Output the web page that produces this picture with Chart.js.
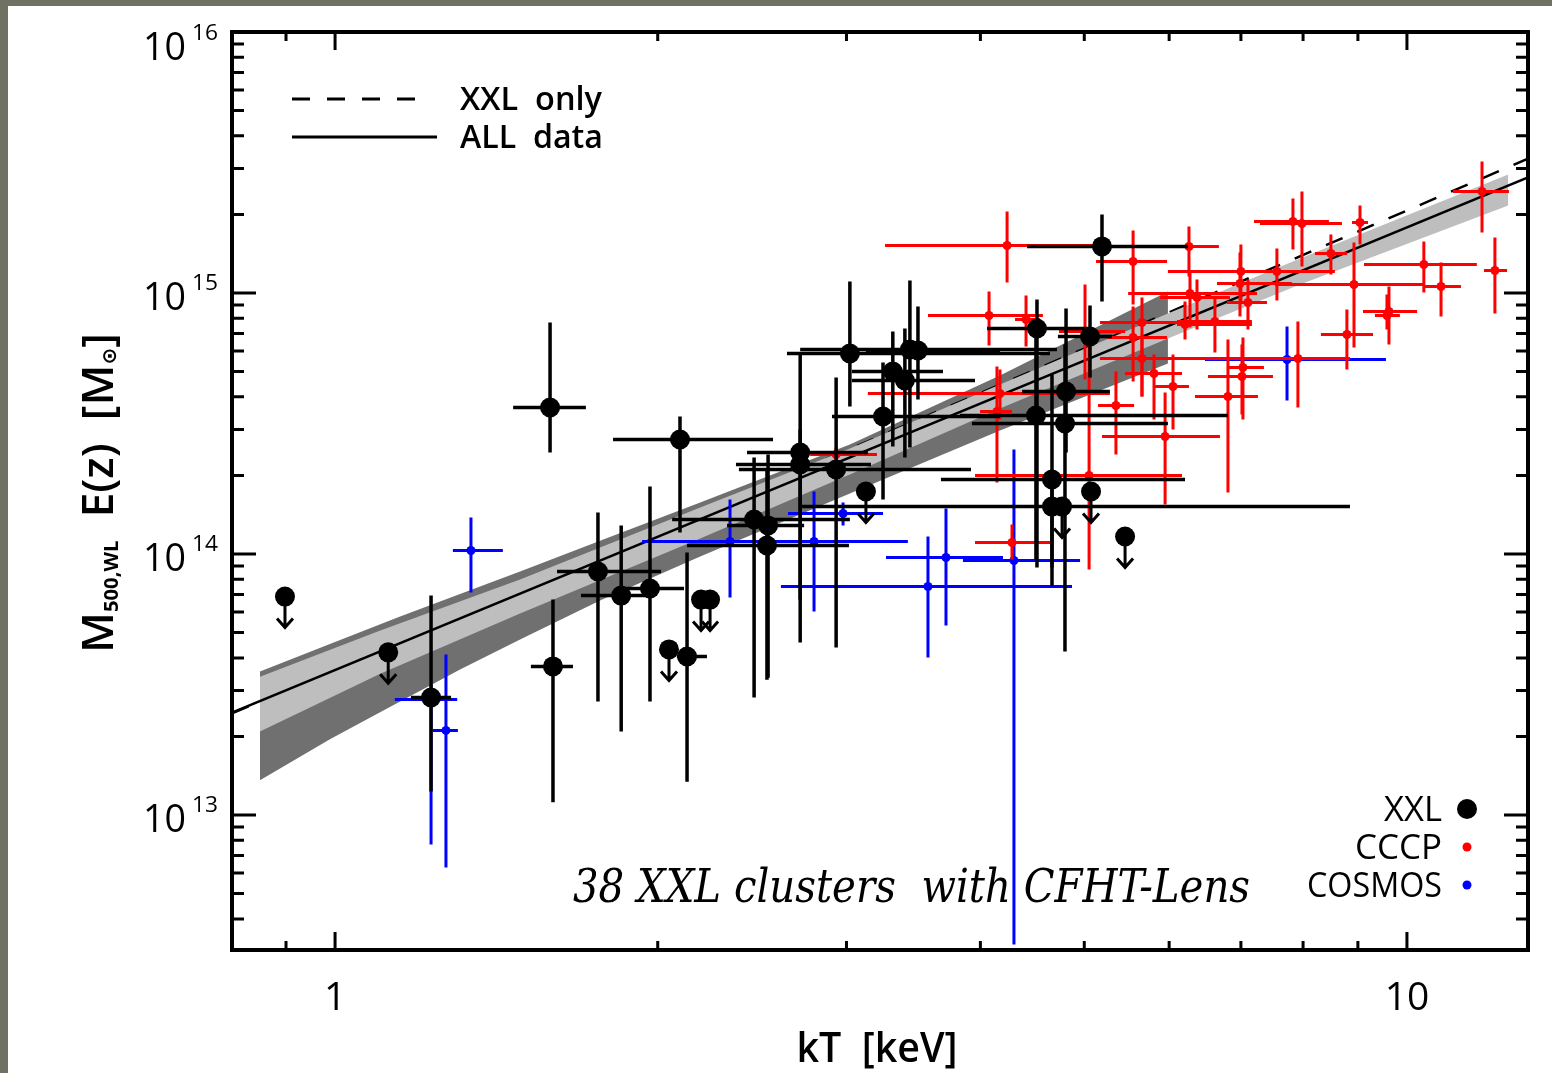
<!DOCTYPE html>
<html>
<head>
<meta charset="utf-8">
<title>M500,WL - kT</title>
<script src="https://cdn.jsdelivr.net/npm/chart.js@4.4.1/dist/chart.umd.min.js"></script>
<style>
  html, body { margin: 0; padding: 0; background: #ffffff; }
  canvas { display: block; }
</style>
</head>
<body>
<canvas id="mt" width="1552" height="1073"></canvas>
<script>
// kT in keV, masses M500,WL E(z) in units of 1e14 Msun

// XXL clusters with CFHTLenS masses
const xxlT   = [1.229, 1.587, 1.597, 1.759, 1.849, 1.967, 2.130, 2.098, 2.460, 2.535, 2.529, 2.716, 2.716, 2.934, 3.022, 3.314, 3.401, 3.438, 3.498, 3.245, 4.517, 5.062, 5.194, 4.507, 4.808, 4.797, 4.665, 4.665];
const xxlTlo = [1.177, 1.466, 1.523, 1.611, 1.696, 1.869, 2.084, 1.817, 2.063, 2.321, 2.130, 2.423, 2.366, 2.381, 2.640, 3.035, 3.035, 2.716, 3.128, 2.908, 4.058, 4.725, 4.421, 3.828, 4.375, 3.928, 3.675, 2.727];
const xxlThi = [1.283, 1.714, 1.667, 2.014, 1.967, 2.116, 2.223, 2.562, 3.022, 2.739, 3.016, 3.141, 3.162, 3.920, 4.645, 3.691, 3.954, 4.715, 4.172, 4.172, 5.040, 5.306, 6.248, 6.808, 5.283, 5.984, 6.208, 8.848];
const xxlM   = [0.282, 3.641, 0.371, 0.857, 0.693, 0.738, 0.405, 2.746, 1.356, 1.286, 1.078, 2.448, 2.202, 2.107, 5.865, 5.003, 4.622, 6.074, 6.021, 3.364, 7.311, 6.811, 15.08, 3.394, 4.195, 3.162, 1.929, 1.520];
const xxlMlo = [0.123, 2.448, 0.112, 0.272, 0.209, 0.272, 0.134, 1.209, 0.282, 0.336, 0.330, 0.458, 0.669, 0.438, 3.674, 2.582, 2.343, 2.559, 3.908, 1.618, 0.888, 4.746, 9.278, 0.953, 2.448, 0.423, 0.757, 0.888];
const xxlMhi = [0.693, 7.709, 0.669, 1.442, 1.286, 1.814, 1.013, 3.364, 2.343, 2.406, 2.107, 5.916, 2.999, 4.746, 11.07, 7.121, 7.311, 11.17, 8.877, 5.416, 9.443, 8.954, 19.99, 7.247, 8.722, 6.349, 4.873, 2.107];

// XXL upper limits
const xxlUlT = [0.898, 1.121, 2.049, 2.195, 2.238, 3.128, 4.767, 5.073, 5.458];
const xxlUlM = [0.687, 0.420, 0.431, 0.669, 0.669, 1.736, 1.520, 1.736, 1.167];

// CCCP
const cccpT   = [4.236, 6.261, 5.553, 7.828, 7.981, 9.041, 8.493, 11.75, 10.37, 10.76, 12.08, 8.925, 7.563, 7.000, 6.986, 7.107, 6.275, 6.370, 5.660, 6.208, 6.620, 5.553, 5.660, 5.808, 6.050, 5.352, 5.948, 6.808, 7.031, 7.016, 7.912, 8.790, 9.621, 9.580, 4.075, 4.412, 4.145, 5.052, 4.281, 5.008, 2.934, 4.172];
const cccpTlo = [3.259, 5.859, 5.128, 7.200, 7.293, 8.887, 8.206, 11.04, 9.119, 10.39, 11.80, 7.532, 5.984, 6.342, 6.649, 6.793, 5.494, 5.884, 5.171, 6.102, 6.102, 5.249, 5.171, 5.458, 5.821, 5.150, 5.194, 6.342, 6.793, 6.522, 6.480, 8.313, 9.099, 9.335, 3.574, 4.309, 3.997, 3.954, 3.954, 4.736, 2.775, 3.141];
const cccpThi = [5.171, 6.677, 5.973, 8.456, 8.697, 9.197, 8.790, 12.45, 11.62, 11.23, 12.40, 10.39, 8.566, 7.810, 7.810, 7.403, 7.246, 6.837, 6.235, 7.168, 7.168, 5.973, 6.549, 6.168, 6.261, 5.565, 6.692, 7.261, 7.355, 7.499, 8.848, 9.297, 10.22, 9.850, 4.575, 4.546, 4.281, 6.168, 4.665, 5.458, 3.203, 5.283];
const cccpM   = [15.21, 15.08, 13.20, 18.79, 18.47, 18.63, 14.17, 24.48, 12.86, 10.59, 12.20, 10.78, 12.09, 12.09, 10.87, 9.197, 9.957, 9.612, 7.709, 7.573, 7.777, 6.753, 5.611, 4.916, 4.382, 3.707, 2.819, 4.012, 5.183, 4.788, 5.611, 6.934, 8.493, 8.200, 8.200, 7.916, 3.516, 2.000, 1.107, 7.121, 2.406, 4.120];
const cccpMlo = [10.97, 11.57, 9.036, 14.68, 12.63, 15.34, 11.77, 17.05, 10.04, 8.128, 8.346, 6.183, 9.361, 9.278, 8.128, 7.247, 7.375, 7.247, 4.012, 6.634, 5.916, 4.580, 4.012, 3.276, 2.999, 2.406, 1.548, 1.720, 3.276, 3.424, 3.641, 5.092, 6.349, 7.247, 6.294, 6.237, 1.879, 0.872, 0.953, 4.662, 2.262, 3.276];
const cccpMhi = [20.53, 17.98, 17.36, 23.02, 24.48, 21.64, 16.75, 31.90, 15.75, 13.09, 16.32, 15.62, 14.81, 15.34, 14.30, 11.26, 11.98, 11.26, 9.612, 9.278, 9.696, 8.877, 6.934, 5.813, 5.813, 5.003, 4.157, 6.634, 6.753, 6.349, 7.777, 8.645, 10.59, 9.870, 10.13, 9.781, 5.228, 7.247, 1.297, 10.78, 2.559, 5.092];

// COSMOS
const cosT   = [1.269, 1.339, 1.229, 2.336, 2.798, 2.978, 3.715, 3.574, 4.299, 7.729];
const cosTlo = [1.234, 1.288, 1.137, 1.934, 2.130, 2.646, 3.266, 2.606, 3.853, 6.480];
const cosThi = [1.302, 1.434, 1.300, 3.169, 3.423, 3.245, 4.199, 4.870, 4.955, 9.559];
const cosM   = [0.211, 1.031, 0.277, 1.117, 1.117, 1.430, 0.970, 0.751, 0.944, 5.563];
const cosMlo = [0.0629, 0.712, 0.0771, 0.681, 0.602, 1.286, 0.532, 0.401, 0.0319, 3.873];
const cosMhi = [0.412, 1.380, 0.316, 1.618, 1.736, 1.575, 1.494, 1.167, 2.514, 7.440];

// best fits (end points) and their confidence bands
const allFitT = [0.8014, 12.97];
const allFitM = [0.247, 27.7];
const xxlFitT = [0.8014, 12.97];
const xxlFitM = [0.245, 32.7];

const xxlBandT  = [0.851, 0.989, 1.150, 1.308, 1.488, 1.767, 2.191, 3.022, 4.172, 5.984];
const xxlBandHi = [0.355, 0.452, 0.576, 0.703, 0.857, 1.123, 1.575, 2.628, 4.829, 10.13];
const xxlBandLo = [0.136, 0.195, 0.272, 0.361, 0.470, 0.664, 0.978, 1.705, 2.973, 5.369];

const allBandT  = [0.851, 1.102, 1.488, 2.191, 3.022, 4.172, 5.984, 7.947, 12.43];
const allBandHi = [0.339, 0.509, 0.799, 1.507, 2.537, 4.461, 8.346, 13.56, 28.44];
const allBandLo = [0.209, 0.348, 0.592, 1.147, 2.017, 3.610, 6.694, 10.78, 21.64];

// axes
const xRange = [0.8014, 12.97];
const yRange = [0.0304, 100];
const xTickLabels = [1, 10];
const yTickDecades = [0.1, 1, 10, 100];
const yTickExp = ['13', '14', '15', '16'];

const FONT = '"Open Sans", "DejaVu Sans", sans-serif';

const pts = (t, m) => t.map((v, i) => ({ x: v, y: m[i] }));

// draw text squeezed/stretched to a given width
function fitText(ctx, text, x, y, w, align) {
  const natural = ctx.measureText(text).width;
  ctx.save();
  ctx.translate(x, y);
  ctx.scale(w / natural, 1);
  ctx.textAlign = align || 'left';
  ctx.fillText(text, 0, 0);
  ctx.restore();
}

const background = {
  id: 'background',
  beforeDraw(chart) {
    const ctx = chart.ctx;
    ctx.save();
    ctx.fillStyle = '#ffffff';
    ctx.fillRect(0, 0, chart.width, chart.height);
    ctx.fillStyle = '#6f7163';
    ctx.fillRect(0, 0, chart.width, 6);
    ctx.fillRect(0, 0, 8, chart.height);
    ctx.restore();
  }
};

// error bars and upper limit arrows, drawn just under each dataset's markers
const errorBars = {
  id: 'errorBars',
  beforeDatasetDraw(chart, args) {
    const ds = chart.data.datasets[args.index];
    if (!ds.errT && !ds.upperLimit) return;
    const { ctx, chartArea: a, scales: { x, y } } = chart;
    ctx.save();
    ctx.beginPath();
    ctx.rect(a.left, a.top, a.right - a.left, a.bottom - a.top);
    ctx.clip();
    ctx.strokeStyle = ds.barColor;
    ctx.lineWidth = ds.barWidth;
    ctx.lineCap = 'butt';
    ds.data.forEach((p, i) => {
      const px = x.getPixelForValue(p.x);
      const py = y.getPixelForValue(p.y);
      ctx.beginPath();
      if (ds.errT) {
        ctx.moveTo(x.getPixelForValue(ds.errT[0][i]), py);
        ctx.lineTo(x.getPixelForValue(ds.errT[1][i]), py);
        ctx.moveTo(px, y.getPixelForValue(ds.errM[0][i]));
        ctx.lineTo(px, y.getPixelForValue(ds.errM[1][i]));
      }
      if (ds.upperLimit) {
        const tip = py + 31;
        ctx.moveTo(px, py);
        ctx.lineTo(px, tip);
        ctx.moveTo(px - 8, tip - 9);
        ctx.lineTo(px, tip);
        ctx.lineTo(px + 8, tip - 9);
      }
      ctx.stroke();
    });
    ctx.restore();
  }
};

// IDL-style box, inward ticks, labels and legends
const frame = {
  id: 'frame',
  afterDraw(chart) {
    const { ctx, chartArea: a, scales: { x, y } } = chart;
    ctx.save();
    ctx.strokeStyle = '#000';
    ctx.fillStyle = '#000';
    ctx.lineWidth = 4;
    ctx.strokeRect(a.left, a.top, a.right - a.left, a.bottom - a.top);

    ctx.lineWidth = 3;
    ctx.beginPath();
    for (let e = -2; e <= 2; e++) {
      for (let k = 1; k <= 9; k++) {
        const v = k * Math.pow(10, e);
        if (v < yRange[0] || v > yRange[1]) continue;
        const py = y.getPixelForValue(v);
        const len = k === 1 ? 24 : 12;
        ctx.moveTo(a.left, py); ctx.lineTo(a.left + len, py);
        ctx.moveTo(a.right, py); ctx.lineTo(a.right - len, py);
      }
    }
    for (let e = -1; e <= 1; e++) {
      for (let k = 1; k <= 9; k++) {
        const v = k * Math.pow(10, e);
        if (v < xRange[0] || v > xRange[1]) continue;
        const px = x.getPixelForValue(v);
        const len = k === 1 ? 18 : 9;
        ctx.moveTo(px, a.bottom); ctx.lineTo(px, a.bottom - len);
        ctx.moveTo(px, a.top); ctx.lineTo(px, a.top + len);
      }
    }
    ctx.stroke();

    // y tick labels 10^n
    yTickDecades.forEach((v, i) => {
      const c = Math.max(y.getPixelForValue(v) + 3, a.top + 14);
      ctx.font = '400 39px ' + FONT;
      fitText(ctx, '10', 186, c + 14, 43, 'right');
      ctx.font = '400 21px ' + FONT;
      fitText(ctx, yTickExp[i], 192, c - 6, 26, 'left');
    });

    // x tick labels
    ctx.font = '400 39px ' + FONT;
    ctx.textAlign = 'center';
    xTickLabels.forEach(v => {
      ctx.fillText(String(v), x.getPixelForValue(v), 1010);
    });
    ctx.textAlign = 'left';

    // axis titles
    ctx.font = '600 42px ' + FONT;
    fitText(ctx, 'kT  [keV]', 877, 1062, 161, 'center');

    const big = '600 44px ' + FONT;
    const small = '700 20px ' + FONT;
    const runs = [['M', big, 0], ['500,WL', small, 5], ['  E(z)  [M', big, 0], ['\u2299', small, 3], [']', big, 0]];
    let total = 0;
    runs.forEach(r => { ctx.font = r[1]; r.push(ctx.measureText(r[0]).width); total += r[3]; });
    ctx.save();
    ctx.translate(113, 493);
    ctx.rotate(-Math.PI / 2);
    ctx.scale(320 / total, 1);
    ctx.textAlign = 'left';
    let pos = -total / 2;
    runs.forEach(r => { ctx.font = r[1]; ctx.fillText(r[0], pos, r[2]); pos += r[3]; });
    ctx.restore();

    // fit legend
    ctx.lineWidth = 3;
    ctx.setLineDash([18, 17]);
    ctx.beginPath(); ctx.moveTo(292, 99); ctx.lineTo(420, 99); ctx.stroke();
    ctx.setLineDash([]);
    ctx.beginPath(); ctx.moveTo(292, 137); ctx.lineTo(437, 137); ctx.stroke();
    ctx.font = '600 32px ' + FONT;
    fitText(ctx, 'XXL  only', 460, 110, 142, 'left');
    fitText(ctx, 'ALL  data', 460, 148, 143, 'left');

    // sample legend
    ctx.font = '400 34px ' + FONT;
    fitText(ctx, 'XXL', 1442, 821, 58, 'right');
    fitText(ctx, 'CCCP', 1442, 859, 87, 'right');
    fitText(ctx, 'COSMOS', 1442, 897, 135, 'right');
    [[809, 10, '#000000'], [847, 4.5, '#ff0000'], [885, 4.5, '#0000ff']].forEach(d => {
      ctx.fillStyle = d[2];
      ctx.beginPath(); ctx.arc(1467, d[0], d[1], 0, Math.PI * 2); ctx.fill();
    });

    ctx.fillStyle = '#000';
    ctx.font = 'italic 400 46px "DejaVu Serif", serif';
    fitText(ctx, '38 XXL clusters  with CFHT-Lens', 573, 902, 677, 'left');
    ctx.restore();
  }
};

const noLine = 'rgba(0,0,0,0)';

new Chart(document.getElementById('mt'), {
  type: 'scatter',
  data: {
    datasets: [
      { type: 'line', data: pts(xxlBandT, xxlBandHi), borderColor: noLine, backgroundColor: '#707070', fill: '+1', pointRadius: 0, tension: 0, order: 20 },
      { type: 'line', data: pts(xxlBandT, xxlBandLo), borderColor: noLine, fill: false, pointRadius: 0, tension: 0, order: 19 },
      { type: 'line', data: pts(xxlFitT, xxlFitM), borderColor: '#000', borderWidth: 2.5, borderDash: [18, 16], fill: false, pointRadius: 0, order: 18 },
      { type: 'line', data: pts(allBandT, allBandHi), borderColor: noLine, backgroundColor: '#bebebe', fill: '+1', pointRadius: 0, tension: 0, order: 17 },
      { type: 'line', data: pts(allBandT, allBandLo), borderColor: noLine, fill: false, pointRadius: 0, tension: 0, order: 16 },
      { type: 'line', data: pts(allFitT, allFitM), borderColor: '#000', borderWidth: 2.5, fill: false, pointRadius: 0, order: 15 },
      {
        label: 'COSMOS', data: pts(cosT, cosM), errT: [cosTlo, cosThi], errM: [cosMlo, cosMhi],
        barColor: '#0000ff', barWidth: 3, pointRadius: 4.5, pointBackgroundColor: '#0000ff', pointBorderWidth: 0, order: 4
      },
      {
        label: 'CCCP', data: pts(cccpT, cccpM), errT: [cccpTlo, cccpThi], errM: [cccpMlo, cccpMhi],
        barColor: '#ff0000', barWidth: 3, pointRadius: 4.5, pointBackgroundColor: '#ff0000', pointBorderWidth: 0, order: 3
      },
      {
        label: 'XXL', data: pts(xxlT, xxlM), errT: [xxlTlo, xxlThi], errM: [xxlMlo, xxlMhi],
        barColor: '#000000', barWidth: 3.5, pointRadius: 10, pointBackgroundColor: '#000000', pointBorderWidth: 0, order: 2
      },
      {
        label: 'XXL upper limits', data: pts(xxlUlT, xxlUlM), upperLimit: true,
        barColor: '#000000', barWidth: 3, pointRadius: 10, pointBackgroundColor: '#000000', pointBorderWidth: 0, order: 1
      }
    ]
  },
  options: {
    responsive: false,
    devicePixelRatio: 1,
    animation: false,
    events: [],
    layout: { padding: { left: 232, right: 24, top: 32, bottom: 123 } },
    plugins: { legend: { display: false }, tooltip: { enabled: false } },
    scales: {
      x: { type: 'logarithmic', min: xRange[0], max: xRange[1], bounds: 'data', display: false },
      y: { type: 'logarithmic', min: yRange[0], max: yRange[1], bounds: 'data', display: false }
    }
  },
  plugins: [background, errorBars, frame]
});
</script>
</body>
</html>
